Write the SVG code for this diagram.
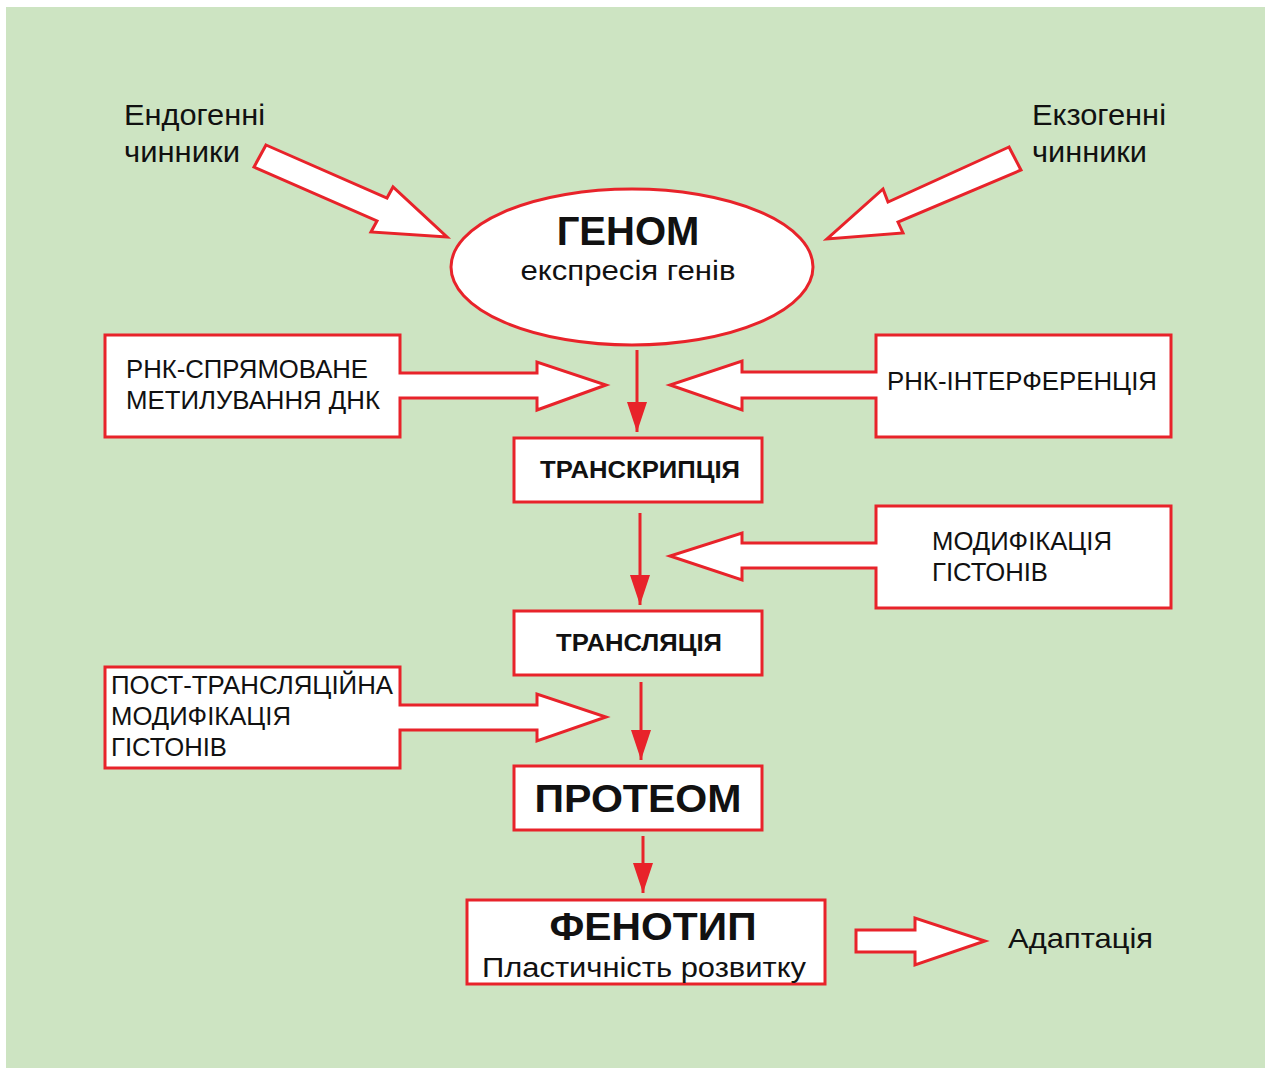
<svg xmlns="http://www.w3.org/2000/svg" width="1270" height="1068" viewBox="0 0 1270 1068">
<defs>
<style>
.bg{fill:#CDE4C2}
.shape{fill:#fff;stroke:#E8232A;stroke-width:3;stroke-linejoin:miter}
.conn{stroke:#E8232A;stroke-width:3;fill:none}
.t{font-family:"Liberation Sans",Arial,sans-serif;fill:#111}
.b{font-weight:bold}
</style>
<marker id="ah" viewBox="0 0 30 20" refX="30" refY="10" markerWidth="30" markerHeight="20" markerUnits="userSpaceOnUse" orient="auto">
<path d="M0,0 L30,10 L0,20 Z" fill="#E8232A"/>
</marker>
</defs>
<rect x="0" y="0" width="1270" height="1068" fill="#fff"/>
<rect class="bg" x="6" y="7" width="1259" height="1061"/>

<g id="endo-label">
<text class="t" x="124" y="125" font-size="29" textLength="141" lengthAdjust="spacingAndGlyphs">Ендогенні</text>
<text class="t" x="124" y="162" font-size="29" textLength="116" lengthAdjust="spacingAndGlyphs">чинники</text>
</g>
<g id="exo-label">
<text class="t" x="1032" y="125" font-size="29" textLength="134" lengthAdjust="spacingAndGlyphs">Екзогенні</text>
<text class="t" x="1032" y="162" font-size="29" textLength="115" lengthAdjust="spacingAndGlyphs">чинники</text>
</g>

<g id="genome">
<ellipse class="shape" cx="632" cy="267" rx="181" ry="78"/>
<text class="t b" x="628" y="245" font-size="40" text-anchor="middle">ГЕНОМ</text>
<text class="t" x="628" y="280" font-size="28" text-anchor="middle" textLength="215" lengthAdjust="spacingAndGlyphs">експресія генів</text>
</g>

<g id="rna-methylation">
<path class="shape" d="M105,335 H400 V373 H537 V362 L606,385 L537,410 V398 H400 V437 H105 Z"/>
<text class="t" x="126" y="378" font-size="25" textLength="242" lengthAdjust="spacingAndGlyphs">РНК-СПРЯМОВАНЕ</text>
<text class="t" x="126" y="409" font-size="25" textLength="254" lengthAdjust="spacingAndGlyphs">МЕТИЛУВАННЯ ДНК</text>
</g>

<g id="rna-interference">
<path class="shape" d="M1171,335 V437 H876 V398 H742 V410 L670,385 L742,361 V372 H876 V335 Z"/>
<text class="t" x="887" y="390" font-size="25" textLength="270" lengthAdjust="spacingAndGlyphs">РНК-ІНТЕРФЕРЕНЦІЯ</text>
</g>

<g id="transcription">
<rect class="shape" x="514" y="438" width="248" height="64"/>
<text class="t b" x="640" y="478" font-size="23" text-anchor="middle" textLength="200" lengthAdjust="spacingAndGlyphs">ТРАНСКРИПЦІЯ</text>
</g>

<g id="histone-mod">
<path class="shape" d="M876,506 H1171 V608 H876 V568 H742 V580 L670,556 L742,533 V543 H876 Z"/>
<text class="t" x="932" y="550" font-size="25" textLength="180" lengthAdjust="spacingAndGlyphs">МОДИФІКАЦІЯ</text>
<text class="t" x="932" y="581" font-size="25" textLength="116" lengthAdjust="spacingAndGlyphs">ГІСТОНІВ</text>
</g>

<g id="translation">
<rect class="shape" x="514" y="611" width="248" height="64"/>
<text class="t b" x="639" y="651" font-size="23" text-anchor="middle" textLength="166" lengthAdjust="spacingAndGlyphs">ТРАНСЛЯЦІЯ</text>
</g>

<g id="post-translation">
<path class="shape" d="M105,667 H400 V705 H537 V694 L606,717 L537,741 V730 H400 V768 H105 Z"/>
<text class="t" x="111" y="694" font-size="25" textLength="282" lengthAdjust="spacingAndGlyphs">ПОСТ-ТРАНСЛЯЦІЙНА</text>
<text class="t" x="111" y="725" font-size="25" textLength="180" lengthAdjust="spacingAndGlyphs">МОДИФІКАЦІЯ</text>
<text class="t" x="111" y="756" font-size="25" textLength="116" lengthAdjust="spacingAndGlyphs">ГІСТОНІВ</text>
</g>

<g id="proteome">
<rect class="shape" x="514" y="766" width="248" height="64"/>
<text class="t b" x="638" y="812" font-size="38" text-anchor="middle" textLength="207" lengthAdjust="spacingAndGlyphs">ПРОТЕОМ</text>
</g>

<g id="phenotype">
<rect class="shape" x="467" y="900" width="358" height="84"/>
<text class="t b" x="653" y="940" font-size="38" text-anchor="middle" textLength="207" lengthAdjust="spacingAndGlyphs">ФЕНОТИП</text>
<text class="t" x="482" y="977" font-size="27" textLength="324" lengthAdjust="spacingAndGlyphs">Пластичність розвитку</text>
</g>

<g id="adaptation">
<text class="t" x="1008" y="948" font-size="28" textLength="145" lengthAdjust="spacingAndGlyphs">Адаптація</text>
</g>

<g id="connectors">
<polygon class="shape" points="266,145 387,198 393,187 447,237 371,232 377,221 254,167"/>
<polygon class="shape" points="1009,147 888,202 883,189 827,239 903,233 898,222 1021,170"/>
<line class="conn" x1="637" y1="350" x2="637" y2="432" marker-end="url(#ah)"/>
<line class="conn" x1="640" y1="513" x2="640" y2="605" marker-end="url(#ah)"/>
<line class="conn" x1="641" y1="682" x2="641" y2="760" marker-end="url(#ah)"/>
<line class="conn" x1="643" y1="836" x2="643" y2="893" marker-end="url(#ah)"/>
<polygon class="shape" points="856,930 915,930 915,918 985,941 915,965 915,952 856,952"/>
</g>
</svg>
